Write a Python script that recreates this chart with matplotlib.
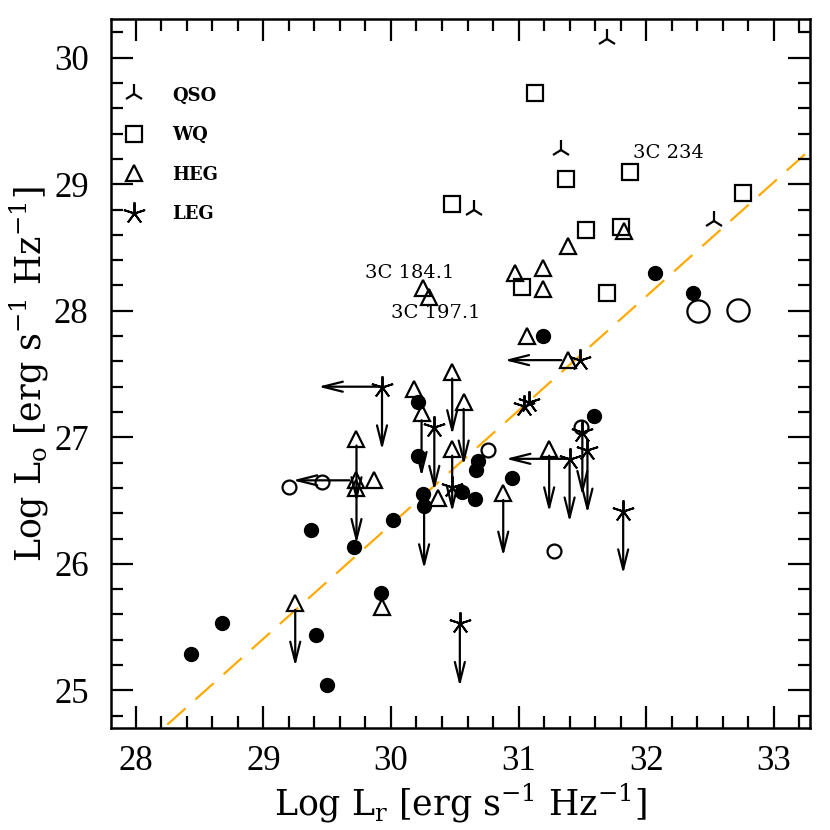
import numpy as np
import matplotlib
matplotlib.use('Agg')
import matplotlib.pyplot as plt
from matplotlib.lines import Line2D
from matplotlib.ticker import MultipleLocator

plt.rcParams['font.family'] = ['Liberation Serif', 'DejaVu Serif']
plt.rcParams['mathtext.fontset'] = 'custom'
plt.rcParams['mathtext.rm'] = 'DejaVu Serif'

# --- data (log L_r, log L_o) ---
qso_x = [31.69, 31.33, 30.65, 32.53]
qso_y = [30.15, 29.27, 28.80, 28.71]

wq_x = [31.13, 31.37, 31.87, 30.48, 32.76, 31.53, 31.80, 31.03, 31.69]
wq_y = [29.72, 29.04, 29.10, 28.84, 28.93, 28.64, 28.66, 28.19, 28.14]

heg_x = [31.83, 31.39, 30.97, 31.19, 31.19, 30.25, 30.30, 31.07, 31.39, 30.48, 30.18, 30.57,
         30.24, 29.73, 30.48, 31.24, 29.73, 29.73, 29.87, 30.37, 30.88, 29.25, 29.93]
heg_y = [28.63, 28.51, 28.30, 28.34, 28.17, 28.18, 28.11, 27.80, 27.61, 27.52, 27.38, 27.28,
         27.19, 26.99, 26.91, 26.91, 26.66, 26.60, 26.66, 26.52, 26.56, 25.69, 25.66]

leg_x = [29.93, 30.34, 30.48, 31.04, 31.08, 31.48, 31.40, 31.50, 31.54, 31.82, 30.54]
leg_y = [27.40, 27.08, 26.61, 27.25, 27.28, 27.61, 26.83, 27.04, 26.90, 26.42, 25.53]

dot_x = [28.43, 28.68, 29.37, 29.71, 29.41, 29.50, 29.92, 30.02, 30.21, 30.21, 30.25,
         30.26, 30.56, 30.66, 30.68, 30.67, 30.95, 31.19, 31.59, 32.07, 32.37]
dot_y = [25.29, 25.53, 26.27, 26.13, 25.44, 25.04, 25.77, 26.35, 27.28, 26.85, 26.55,
         26.46, 26.57, 26.51, 26.81, 26.74, 26.68, 27.80, 27.17, 28.30, 28.14]

ring_x = [29.20, 29.46, 30.76, 31.49, 31.28]
ring_y = [26.61, 26.65, 26.90, 27.08, 26.10]
big_ring_x = [32.41, 32.72]
big_ring_y = [28.00, 28.01]

# upper limits: starting points of the arrows
heg_down_x = [29.73, 29.73, 29.25, 30.24, 30.48, 30.48, 30.57, 30.88, 31.24]
heg_down_y = [26.99, 26.66, 25.69, 27.19, 27.52, 26.91, 27.28, 26.56, 26.91]
leg_down_x = [29.93, 30.34, 30.54, 31.40, 31.50, 31.54, 31.82]
leg_down_y = [27.40, 27.08, 25.53, 26.83, 27.04, 26.90, 26.42]
dot_down_x = [30.26]
dot_down_y = [26.46]
heg_left_x = [29.73, 31.39]
heg_left_y = [26.66, 27.61]
leg_left_x = [29.93, 31.40]
leg_left_y = [27.40, 26.83]
limit_len = 0.5

fit_slope, fit_icpt = 0.902, -0.75

labels = [('3C 234', 31.90, 29.25), ('3C 184.1', 29.80, 28.30), ('3C 197.1', 30.00, 27.98)]

fig = plt.figure(figsize=(8.3, 8.3), dpi=100)
ax = fig.add_axes([0.1337, 0.1225, 0.8422, 0.8546])
xlim = (27.806, 33.284)
ax.set_xlim(*xlim)
ax.set_ylim(24.70, 30.306)

# fit line
xx = np.array(xlim)
ax.plot(xx, fit_slope * xx + fit_icpt, color='#FFAA00', lw=1.6,
        linestyle=(0, (11, 6)), zorder=1)

def arrows(xs, ys, dx, dy, shrink):
    for x, y in zip(xs, ys):
        ax.annotate('', xy=(x + dx, y + dy), xytext=(x, y),
                    arrowprops=dict(arrowstyle='->,head_length=1.2,head_width=0.3',
                                    lw=1.6, color='k', shrinkA=shrink, shrinkB=0,
                                    mutation_scale=12), zorder=2)

arrows(heg_down_x, heg_down_y, 0, -limit_len, 5)
arrows(leg_down_x, leg_down_y, 0, -limit_len, 0)
arrows(dot_down_x, dot_down_y, 0, -limit_len, 3)
arrows(heg_left_x, heg_left_y, -limit_len, 0, 5)
arrows(leg_left_x, leg_left_y, -limit_len, 0, 0)

mew = 1.6
ax.plot(qso_x, qso_y, ls='none', marker='2', ms=15, mew=mew, color='k', zorder=3)
ax.plot(wq_x, wq_y, ls='none', marker='s', ms=11, mew=mew, mfc='none', mec='k', zorder=3)
ax.plot(heg_x, heg_y, ls='none', marker='^', ms=12, mew=mew, mfc='none', mec='k', zorder=3)
ax.plot(leg_x, leg_y, ls='none', marker=(5, 2, 0), ms=16, mew=1.4, color='k', zorder=3)
ax.plot(dot_x, dot_y, ls='none', marker='o', ms=10, color='k', zorder=3)
ax.plot(ring_x, ring_y, ls='none', marker='o', ms=10, mew=mew, mfc='none', mec='k', zorder=3)
ax.plot(big_ring_x, big_ring_y, ls='none', marker='o', ms=16, mew=mew, mfc='none', mec='k', zorder=3)

for txt, x, y in labels:
    ax.text(x, y, txt, fontsize=14, ha='left', va='center', family='DejaVu Serif')

handles = [
    Line2D([], [], ls='none', marker='2', ms=15, mew=mew, color='k'),
    Line2D([], [], ls='none', marker='s', ms=11, mew=mew, mfc='none', mec='k'),
    Line2D([], [], ls='none', marker='^', ms=12, mew=mew, mfc='none', mec='k'),
    Line2D([], [], ls='none', marker=(5, 2, 0), ms=16, mew=1.4, color='k'),
]
ax.legend(handles, ['QSO', 'WQ', 'HEG', 'LEG'], loc='upper left',
          bbox_to_anchor=(0.02, 0.905), frameon=False, borderpad=0, borderaxespad=0,
          handlelength=1.0, handletextpad=1.6, labelspacing=1.2,
          prop={'family': 'DejaVu Serif', 'weight': 'bold', 'size': 13})

ax.xaxis.set_major_locator(MultipleLocator(1))
ax.yaxis.set_major_locator(MultipleLocator(1))
ax.xaxis.set_minor_locator(MultipleLocator(0.2))
ax.yaxis.set_minor_locator(MultipleLocator(0.2))
ax.tick_params(which='both', direction='in', top=True, right=True, width=1.6)
ax.tick_params(which='major', length=16, labelsize=25)
ax.tick_params(which='minor', length=8.5)
ax.tick_params(axis='x', pad=12)
ax.tick_params(axis='y', pad=16)
for s in ax.spines.values():
    s.set_linewidth(1.8)

ax.set_xlabel(r'Log L$_{\rm r}$ [erg s$^{-1}$ Hz$^{-1}$]', fontsize=25,
              family='DejaVu Serif', labelpad=2)
ax.set_ylabel(r'Log L$_{\rm o}$ [erg s$^{-1}$ Hz$^{-1}$]', fontsize=25,
              family='DejaVu Serif', labelpad=2)

fig.savefig('out.png', dpi=100)
